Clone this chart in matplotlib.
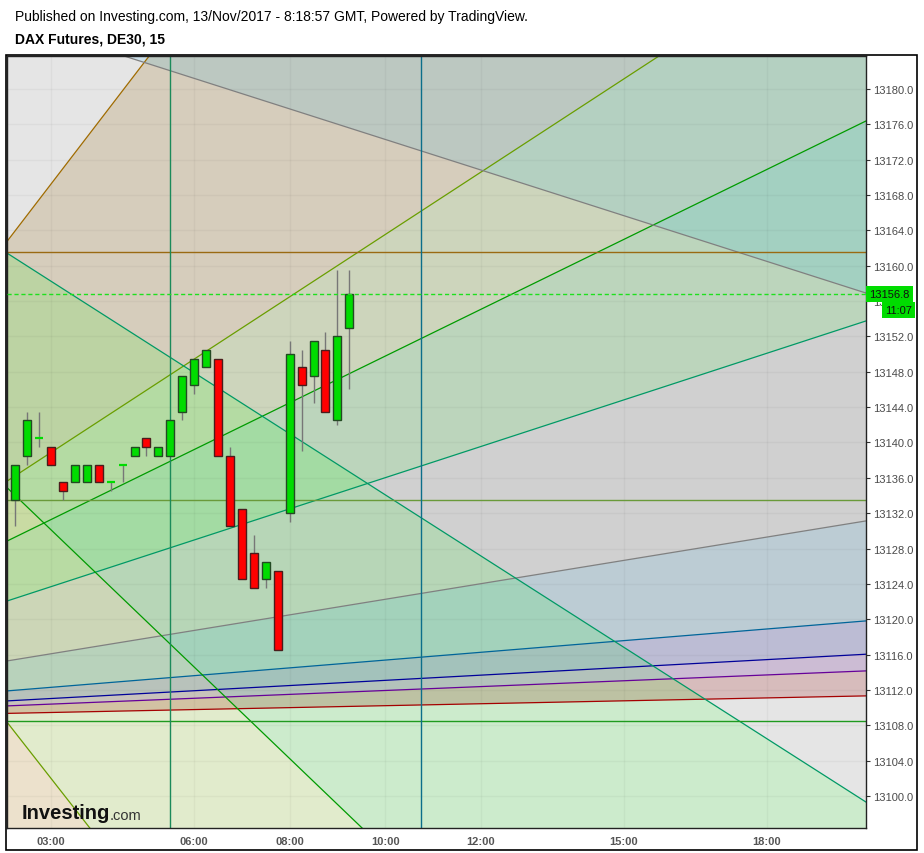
import numpy as np
import matplotlib
matplotlib.use('Agg')
import matplotlib.pyplot as plt
from matplotlib.patches import Rectangle
from matplotlib.transforms import blended_transform_factory

# DAX futures, 15 min bars, first full bar at 02:15 (bar index 0)
bar_idx = list(range(-1, 29))
opens  = [13134.5, 13133.5, 13138.5, 13140.5, 13139.5, 13135.5, 13135.5, 13135.5, 13137.5, 13135.5, 13137.5,
          13138.5, 13140.5, 13138.5, 13138.5, 13143.5, 13146.5, 13148.5, 13149.5, 13138.5, 13132.5,
          13127.5, 13124.5, 13125.5, 13132.0, 13148.5, 13147.5, 13150.5, 13142.5, 13153.0]
highs  = [13134.5, 13137.5, 13143.5, 13143.5, 13139.5, 13135.5, 13137.5, 13137.5, 13137.5, 13135.5, 13137.5,
          13139.5, 13140.5, 13139.5, 13142.5, 13147.5, 13149.5, 13150.5, 13149.5, 13139.5, 13132.5,
          13129.5, 13126.5, 13125.5, 13151.5, 13150.5, 13151.5, 13152.5, 13159.5, 13159.5]
lows   = [13134.5, 13130.5, 13137.5, 13139.5, 13137.5, 13133.5, 13135.5, 13135.5, 13135.5, 13134.5, 13135.5,
          13138.5, 13138.5, 13138.5, 13138.5, 13142.5, 13145.5, 13148.5, 13138.5, 13130.5, 13124.5,
          13123.5, 13123.5, 13116.5, 13131.0, 13139.0, 13144.5, 13143.5, 13142.0, 13146.0]
closes = [13134.5, 13137.5, 13142.5, 13140.5, 13137.5, 13134.5, 13137.5, 13137.5, 13135.5, 13135.5, 13137.5,
          13139.5, 13139.5, 13139.5, 13142.5, 13147.5, 13149.5, 13150.5, 13138.5, 13130.5, 13124.5,
          13123.5, 13126.5, 13116.5, 13150.0, 13146.5, 13151.5, 13143.5, 13152.0, 13156.8]

time_ticks = [3, 15, 23, 31, 39, 51, 63]
time_labels = ['03:00', '06:00', '08:00', '10:00', '12:00', '15:00', '18:00']
price_ticks = np.arange(13100, 13181, 4)

# gann fans: origin bar, origin price, 1x1 slope (points per bar)
fan_up = (-31.5, 13108.5, 0.2201)
fan_down = (-62.2, 13214.5, -0.4314)
ratios = [8, 4, 3, 2, 1, 1/2, 1/3, 1/4, 1/8]
line_cols = ['#a06b00', '#699e00', '#009b00', '#009965', '#808080',
             '#006599', '#000099', '#660099', '#a50000']
band_cols = ['#a06b00', '#699e00', '#009b00', '#808080',
             '#006599', '#000099', '#660099', '#a50000']

hline_prices = [13161.6, 13133.5, 13108.5]
hline_cols = ['#9a6a12', '#6a9a3a', '#1f9a1f']
vline_bars = [13, 34]
vline_cols = ['#1b8a5a', '#0b6e8a']

last_close = 13156.8
countdown = '11:07'

up_col = '#00dc00'
down_col = '#ff0000'

fig = plt.figure(figsize=(9.24, 8.54), dpi=100)
ax = fig.add_axes([7/924, 25/854, 859/924, 772/854])
ax.set_xlim(-0.69, 71.3)
ax.set_ylim(13096.38, 13183.73)


def draw_fan(ax, i0, p0, slope):
    xs = np.linspace(i0, 90, 500)
    ys = [p0 + slope * r * (xs - i0) for r in ratios]
    for k, c in enumerate(band_cols):
        ax.fill_between(xs, ys[k], ys[k + 1], color=c, alpha=0.2, lw=0, zorder=1)
    for y, c in zip(ys, line_cols):
        ax.plot(xs, y, color=c, lw=0.9, zorder=2)


draw_fan(ax, *fan_up)
draw_fan(ax, *fan_down)

# grid
for p in price_ticks:
    ax.axhline(p, color='black', alpha=0.035, lw=1, zorder=1.5)
for t in time_ticks:
    ax.axvline(t, color='black', alpha=0.035, lw=1, zorder=1.5)

for p, c in zip(hline_prices, hline_cols):
    ax.axhline(p, color=c, lw=1, zorder=2)
for b, c in zip(vline_bars, vline_cols):
    ax.axvline(b, color=c, lw=1, zorder=2)

# candles
w = 0.67
for i, o, h, l, c in zip(bar_idx, opens, highs, lows, closes):
    ax.vlines(i, l, h, color='#777777', lw=1, zorder=3)
    if o == c:
        ax.hlines(c, i - w / 2, i + w / 2, color=up_col, lw=1.6, zorder=4)
        continue
    col = up_col if c > o else down_col
    ec = '#234a23' if c > o else '#4a1c1c'
    ax.bar(i, abs(c - o), bottom=min(o, c), width=w, color=col,
           edgecolor=ec, lw=1, zorder=4)

ax.axhline(last_close, color='#1ee01e', lw=1, ls=(0, (3, 2)), zorder=5)

# axes styling
ax.yaxis.tick_right()
ax.set_yticks(price_ticks, [f'{v:.1f}' for v in price_ticks])
ax.set_xticks(time_ticks, time_labels)
ax.tick_params(axis='y', length=3, color='#333333', labelsize=8, labelcolor='#4a4a4a', pad=2)
ax.tick_params(axis='x', length=0, labelsize=8, labelcolor='#555555', pad=6)
for lab in ax.get_xticklabels():
    lab.set_fontweight('bold')
    lab.set_family('Liberation Sans')
for lab in ax.get_yticklabels():
    lab.set_family('Liberation Sans')
for s in ax.spines.values():
    s.set_color('#222222')
    s.set_linewidth(1)

# last price and countdown labels
tr = blended_transform_factory(ax.transAxes, ax.transData)
ax.text(1.004, last_close, f'{last_close:.1f}', transform=tr, ha='left', va='center',
        fontsize=8, family='Liberation Sans', color='#111111', zorder=10, clip_on=False,
        bbox=dict(boxstyle='square,pad=0.28', fc=up_col, ec='none'))
ax.annotate(countdown, xy=(1, last_close), xycoords=tr, xytext=(19, -16),
            textcoords='offset pixels', ha='left', va='center', fontsize=8,
            family='Liberation Sans', color='#111111', zorder=10, annotation_clip=False,
            bbox=dict(boxstyle='square,pad=0.28', fc=up_col, ec='none'))

# titles and frame
fig.text(15/924, 1 - 17/854, 'Published on Investing.com, 13/Nov/2017 - 8:18:57 GMT, Powered by TradingView.',
         fontsize=10, family='Liberation Sans', va='center')
fig.text(15/924, 1 - 40/854, 'DAX Futures, DE30, 15', fontsize=10, weight='bold',
         family='Liberation Sans', va='center')
fig.add_artist(Rectangle((6/924, 3/854), 911/924, 795/854, transform=fig.transFigure,
                         fill=False, ec='black', lw=1.2))

# logo
fig.text(22/924, 1 - 814/854, 'Investing', fontsize=14.5, weight='bold',
         family='Liberation Sans', va='center', color='#111111')
fig.text(110/924, 1 - 816/854, '.com', fontsize=10.5, family='Liberation Sans',
         va='center', color='#333333')

fig.savefig('out.png', dpi=100)
